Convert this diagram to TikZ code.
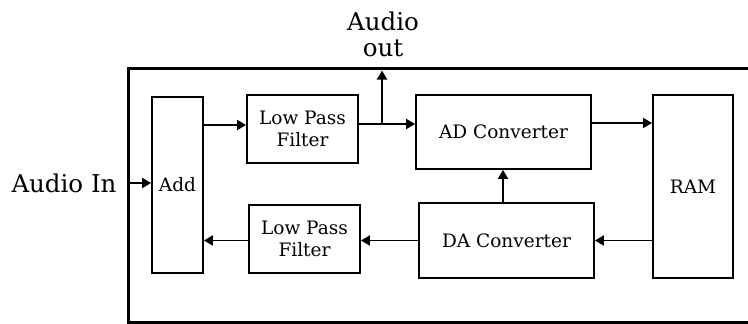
\documentclass[tikz,border=0pt]{standalone}
\usepackage{fontspec}
\setmainfont{DejaVu Serif}
\usetikzlibrary{arrows.meta,positioning,calc}

\begin{document}
\begin{tikzpicture}[
  x=1pt, y=-1pt,
  block/.style={draw, line width=1.8pt, inner sep=0pt, align=center,
    font=\fontsize{18.5}{22}\selectfont},
  tag/.style={font=\fontsize{24.5}{26}\selectfont, align=center, inner sep=0pt},
  arr/.style={-{Triangle[length=9pt,width=10pt]}, line width=1.8pt},
  frame/.style={line width=3.5pt}
]
  \useasboundingbox (0,0) rectangle (748,324);
  \draw[frame] (128.5,68.5) rectangle (770,323);

  \node[block, minimum width=51pt, minimum height=176pt] (add) at (177.5,185) {Add};
  \node[block, minimum width=111pt, minimum height=68pt] (lpfa) at (302.5,129) {Low Pass\\Filter};
  \node[block, minimum width=175pt, minimum height=74pt] (adc) at (503.5,132) {AD Converter};
  \node[block, minimum width=80pt, minimum height=183pt] (ram) at (693,186.5) {RAM};
  \node[block, minimum width=175pt, minimum height=75pt] (dac) at (506.5,240.5) {DA Converter};
  \node[block, minimum width=111pt, minimum height=68pt] (lpfb) at (304.5,239) {Low Pass\\Filter};

  \node[tag] (audioin) at (64,183) {Audio In};
  \node[tag] (audioout) at (383,34) {Audio\\out};
  \coordinate (inpt) at (129,183);
  \coordinate (tap) at (382,124);
  \coordinate (aout) at (382,70.5);

  \draw[arr] (inpt) -- (inpt -| add.west);
  \draw[arr] (add.east |- 0,125) -- (lpfa.west |- 0,125);
  \draw[arr] (lpfa.east |- tap) -- (adc.west |- tap);
  \draw[arr] (tap) -- (aout);
  \draw[arr] (adc.east |- 0,123) -- (ram.west |- 0,123);
  \draw[arr] (ram.west |- dac) -- (dac.east);
  \draw[arr] (dac.north -| 503,0) -- (adc.south -| 503,0);
  \draw[arr] (dac.west) -- (lpfb.east |- dac);
  \draw[arr] (lpfb.west |- dac) -- (add.east |- dac);
\end{tikzpicture}
\end{document}
